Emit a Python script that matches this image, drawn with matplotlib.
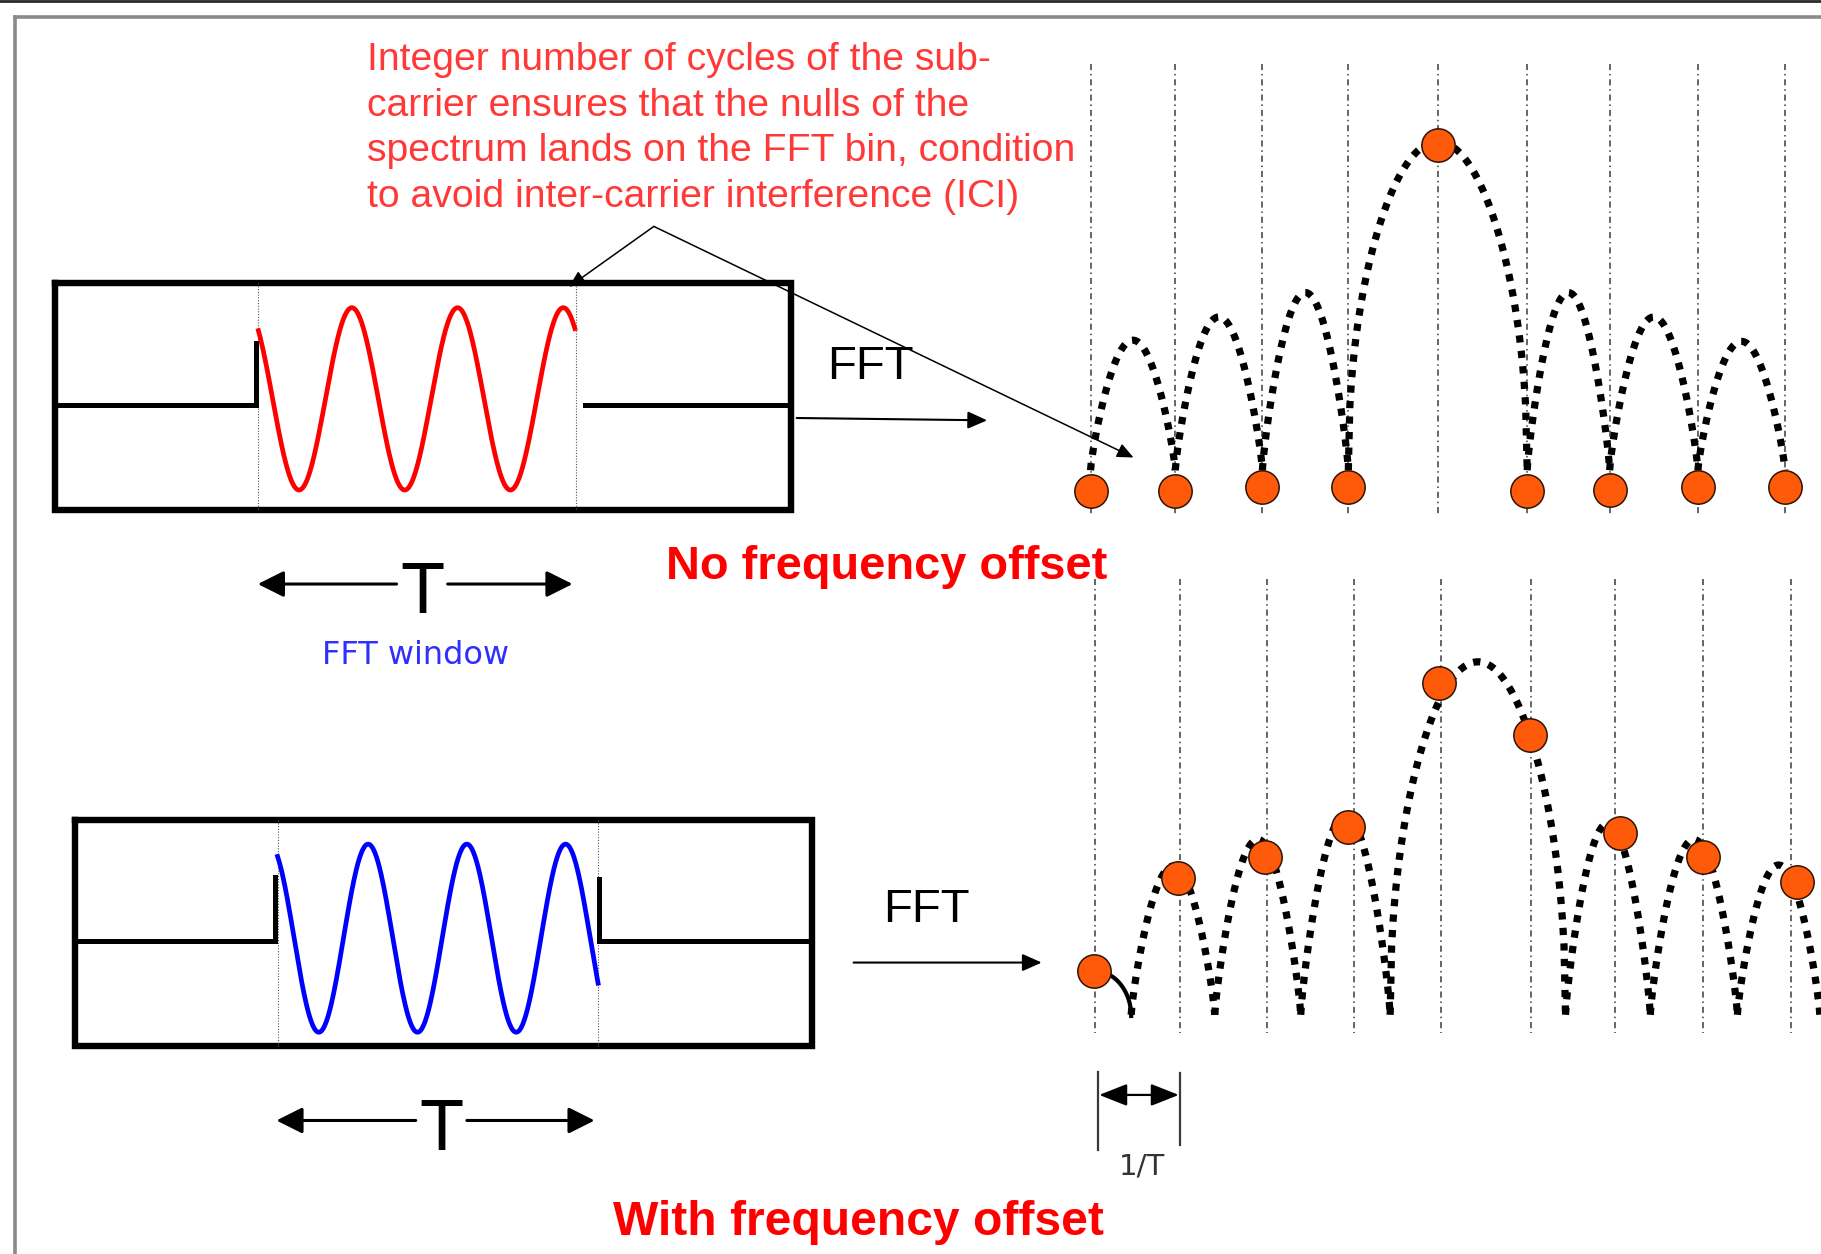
import numpy as np
import matplotlib.pyplot as plt
from matplotlib import font_manager

# everything is laid out in the reference's own pixel units (1568 x 1080, y down)

# FFT bins, sampled values and sinc lobes, no frequency offset
bins_top = [939, 1012, 1087, 1161, 1238, 1315, 1386, 1462, 1537]
dots_top = [423, 423, 419, 419, 125, 423, 422, 419, 419]
nulls_top = [939, 1012, 1087, 1161, 1315, 1386, 1462, 1537]
peaks_top = [293, 273, 252, 122, 252, 273, 294]

# same with a frequency offset: nulls fall between the bins
bins_bot = [943, 1016, 1091, 1166, 1241, 1318, 1391, 1466, 1542]
dots_bot_x = [942, 1014, 1089, 1161, 1239, 1317, 1395, 1466, 1547]
dots_bot_y = [836, 756, 738, 712, 588, 633, 717, 738, 760]
nulls_bot = [974, 1046, 1120, 1197, 1348, 1421, 1496, 1567]
peaks_bot = [746, 723, 702, 570, 709, 723, 745]

note_lines = [
    "Integer number of cycles of the sub-",
    "carrier ensures that the nulls of the",
    "spectrum lands on the FFT bin, condition",
    "to avoid inter-carrier interference (ICI)",
]

available = {f.name for f in font_manager.fontManager.ttflist}
NARROW = 'Liberation Sans Narrow' if 'Liberation Sans Narrow' in available else 'Liberation Sans'

fig = plt.figure(figsize=(18.21, 12.54), dpi=100)
ax = fig.add_axes([0, 0, 1, 1])
ax.set_xlim(0, 1568)
ax.set_ylim(1080, 0)
ax.axis('off')

# slide frame
ax.plot([0, 1568], [0.8, 0.8], color='#2a2a2a', lw=2)
ax.plot([12.5, 1568], [14.5, 14.5], color='#8a8a8a', lw=2.6, solid_capstyle='projecting')
ax.plot([12.5, 12.5], [14.5, 1080], color='#8a8a8a', lw=2.6, solid_capstyle='projecting')


def window_box(left, right, top, bottom, base, w0, w1, step_l, step_r, right_start,
               x_peak, period, centre, amp, end_x, colour):
    ax.plot([left, right, right, left, left], [top, top, bottom, bottom, top],
            color='black', lw=4.6, solid_joinstyle='miter')
    for xv in (w0, w1):
        ax.plot([xv, xv], [top, bottom], color='#555555', lw=0.8, ls=(0, (1, 1.5)))
    ax.plot([left, w0 - 2, w0 - 2], [base, base, step_l], color='black', lw=3.6,
            solid_joinstyle='miter')
    if step_r is not None:
        ax.plot([right_start, right_start, right], [step_r, base, base], color='black',
                lw=3.6, solid_joinstyle='miter')
    else:
        ax.plot([right_start, right], [base, base], color='black', lw=3.6)
    x = np.linspace(w0, end_x, 400)
    y = centre - amp * np.cos(2 * np.pi * (x - x_peak) / period)
    ax.plot(x, y, color=colour, lw=3.4)


window_box(47, 681, 244, 439, 349, 222.5, 496, 295.6, None, 503.7,
           303, 91, 343.5, 78.5, 495, '#ff0000')
window_box(64.5, 699, 706, 901, 810, 239, 515, 755, 757, 515.5,
           317, 85, 808, 81, 515, '#0000ff')


def spectrum(bins, y0, y1, nulls, peaks, base, dot_x, dot_y):
    for xv in bins:
        ax.plot([xv, xv], [y0, y1], color='#3c3c3c', lw=1.1, ls=(0, (4, 2.5, 1, 2.5)))
    tallest = min(peaks)
    for a, b, pk in zip(nulls[:-1], nulls[1:], peaks):
        p = 0.45 if pk == tallest else 0.8
        t = np.linspace(0, 1, 120)
        ax.plot(a + (b - a) * t, base - (base - pk) * np.sin(np.pi * t) ** p,
                color='black', lw=5.2, ls=(0, (1, 1.15)), dash_capstyle='butt')
    ax.plot(dot_x, dot_y, 'o', ms=24, mfc='#ff5a0a', mec='#2e1406', mew=1.1, zorder=5)


spectrum(bins_top, 55, 445, nulls_top, peaks_top, 405, bins_top, dots_top)
spectrum(bins_bot, 499, 890, nulls_bot, peaks_bot, 874, dots_bot_x, dots_bot_y)

# solid tail of the lobe left of the first offset bin
th = np.linspace(0, np.pi / 2, 40)
ax.plot(dots_bot_x[0] + 32 * np.sin(th), 875 - 39 * np.cos(th), color='black', lw=3, zorder=4)

# annotation and its two leader arrows
for i, line in enumerate(note_lines):
    ax.text(316, 60 + 39.5 * i, line, fontsize=28.2, color='#ff3838', family='Liberation Sans',
            ha='left', va='baseline')
small_head = dict(arrowstyle='-|>,head_length=0.45,head_width=0.2', mutation_scale=22,
                  color='black', lw=1.1, shrinkA=0, shrinkB=0)
ax.annotate('', xy=(490, 247), xytext=(563, 195), arrowprops=small_head)
ax.annotate('', xy=(976, 394), xytext=(563, 195), arrowprops=small_head)

# FFT arrows
fft_head = dict(arrowstyle='-|>,head_length=0.45,head_width=0.2', mutation_scale=26,
                color='black', lw=1.5, shrinkA=0, shrinkB=0)
ax.annotate('', xy=(850, 362), xytext=(686, 360), arrowprops=fft_head)
ax.annotate('', xy=(897, 829), xytext=(735, 829), arrowprops=fft_head)
ax.text(712, 326, 'FFT', fontsize=34, family=NARROW, color='black', ha='left', va='baseline')
ax.text(760, 794, 'FFT', fontsize=34, family=NARROW, color='black', ha='left', va='baseline')

# window length T
t_head = dict(arrowstyle='-|>,head_length=0.4,head_width=0.2', mutation_scale=40,
              color='black', lw=2.2, shrinkA=0, shrinkB=0)
for xl, xr, tx, yy in [(222, 493, 363.5, 503), (238, 512, 380, 965)]:
    ax.annotate('', xy=(xl, yy), xytext=(tx - 22, yy), arrowprops=t_head)
    ax.annotate('', xy=(xr, yy), xytext=(tx + 22, yy), arrowprops=t_head)
    ax.text(tx, yy + 25, 'T', fontsize=52, family=NARROW, color='black',
            ha='center', va='baseline')

ax.text(358, 572, 'FFT window', fontsize=23, family='DejaVu Sans', color='#2f2fff',
        ha='center', va='baseline')

ax.text(763.5, 499, 'No frequency offset', fontsize=33.8, family='Liberation Sans',
        weight='bold', color='#ff0000', ha='center', va='baseline')
ax.text(739.5, 1064, 'With frequency offset', fontsize=34.6, family='Liberation Sans',
        weight='bold', color='#ff0000', ha='center', va='baseline')

# bin spacing 1/T
ax.plot([945.5, 945.5], [923, 990], color='#3a3a3a', lw=1.6)
ax.plot([1016, 1016], [924, 986], color='#3a3a3a', lw=1.6)
ax.annotate('', xy=(946.5, 943), xytext=(1015, 943),
            arrowprops=dict(arrowstyle='<|-|>,head_length=0.43,head_width=0.17',
                            mutation_scale=40, color='black', lw=1.6,
                            shrinkA=0, shrinkB=0))
ax.text(983, 1011.5, '1/T', fontsize=21, family='DejaVu Sans', color='#333333',
        ha='center', va='baseline')

fig.savefig('out.png', dpi=100)
